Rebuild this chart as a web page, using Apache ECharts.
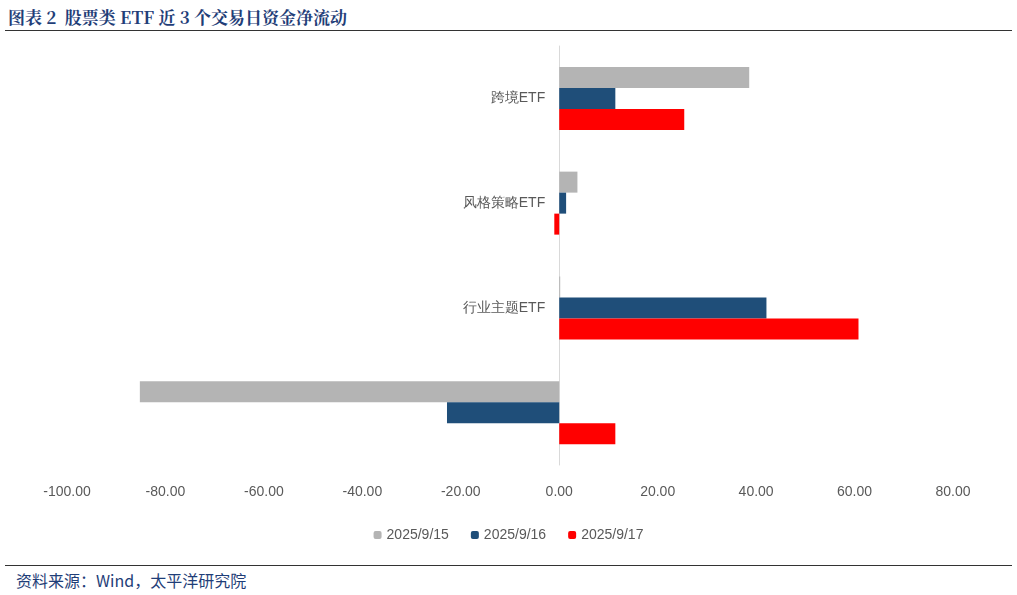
<!DOCTYPE html>
<html><head><meta charset="utf-8">
<script src="https://cdn.jsdelivr.net/npm/echarts@6/dist/echarts.min.js"></script>
<style>
body{margin:0;background:#fff;font-family:"Noto Sans CJK SC",sans-serif;}
#title{position:absolute;left:8px;top:4px;font-family:"Noto Serif CJK SC","Noto Sans CJK SC",serif;font-weight:bold;font-size:17px;color:#1f3e78;}
#topline{position:absolute;left:5px;top:30px;width:1007px;border-top:1px solid #333;}
#botline{position:absolute;left:5px;top:565px;width:1007px;border-top:1px solid #333;}
#src{position:absolute;left:16px;top:568px;font-size:16px;color:#1f3e78;}
#chart{position:absolute;left:0;top:31px;width:1017px;height:534px;}
</style></head>
<body>
<div id="title">图表 2 &nbsp;股票类 ETF 近 3 个交易日资金净流动</div>
<div id="topline"></div>
<div id="chart"></div>
<div id="botline"></div>
<div id="src">资料来源：Wind，太平洋研究院</div>
<script>
var categories = ['跨境ETF', '风格策略ETF', '行业主题ETF', '宽基ETF'];
var seriesNames = ['2025/9/15', '2025/9/16', '2025/9/17'];
var d0915 = [38.6, 3.7, 0.2, -85.2];
var d0916 = [11.4, 1.4, 42.1, -22.8];
var d0917 = [25.4, -1.0, 60.8, 11.4];
var colors = ['#b4b4b4', '#1f4e79', '#ff0000'];

var gridLeft = 67, gridRight = 64;
var plotW = 1017 - gridLeft - gridRight;
var zeroOffset = plotW * 100 / 180;

var myChart = echarts.init(document.getElementById('chart'));
var option = {
    animation: false,
    grid: { left: gridLeft, right: gridRight, top: 15, bottom: 100, containLabel: false, outerBoundsMode: 'none' },
    legend: {
        bottom: 18,
        itemWidth: 8, itemHeight: 8, itemGap: 22,
        textStyle: { color: '#595959', fontSize: 14 },
        data: seriesNames
    },
    xAxis: {
        type: 'value', min: -100, max: 80, interval: 20,
        axisLabel: { color: '#595959', fontSize: 14, margin: 20, formatter: function(v) { return v.toFixed(2); } },
        splitLine: { show: false },
        axisLine: { show: false }, axisTick: { show: false }
    },
    yAxis: {
        type: 'category', inverse: true, data: categories,
        offset: -zeroOffset,
        axisLine: { onZero: false, lineStyle: { color: '#d9d9d9' } },
        axisTick: { show: false },
        axisLabel: { color: '#595959', fontSize: 14, margin: 14 }
    },
    series: [
        { name: seriesNames[0], type: 'bar', data: d0915, barWidth: 21, barGap: '0%', itemStyle: { color: colors[0] } },
        { name: seriesNames[1], type: 'bar', data: d0916, barWidth: 21, itemStyle: { color: colors[1] } },
        { name: seriesNames[2], type: 'bar', data: d0917, barWidth: 21, itemStyle: { color: colors[2] } }
    ]
};
myChart.setOption(option);
</script>
</body></html>
